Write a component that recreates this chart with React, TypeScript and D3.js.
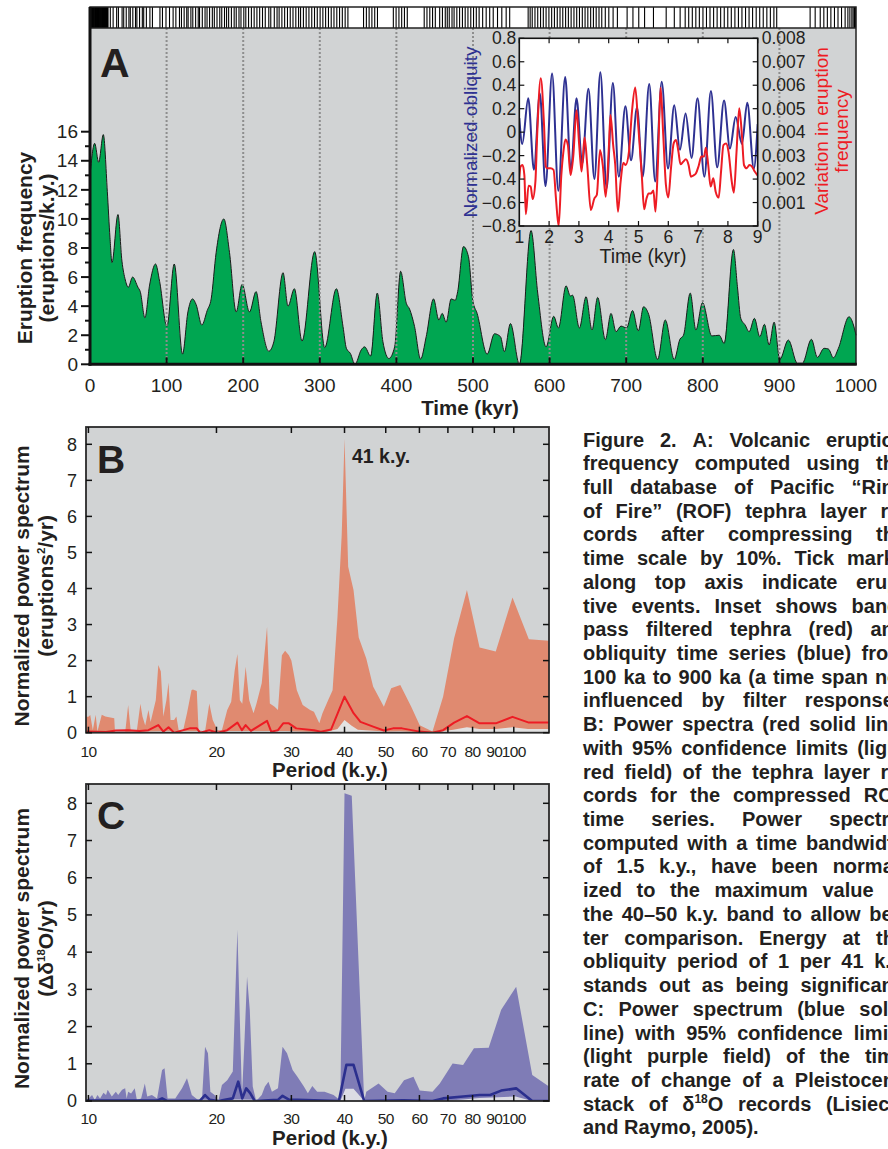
import React, { useEffect, useRef } from 'react';
import * as d3 from 'd3';

const FONT = "'Liberation Sans', Arial, Helvetica, sans-serif";
const GRAY = '#d1d3d4';
const GREEN = '#00a651';
const TEXT = '#231f20';

// ---------------- Panel A: eruption frequency (kyr, eruptions/k.y.)
const eruptionFrequency: [number, number][] = [
  [0, 13.0], [6.1, 15.2], [11.3, 13.9], [17.4, 15.8], [22.6, 11.9], [26.1, 8.7], [28.7, 7.0], [36.5, 10.3],
  [41.7, 7.1], [46.1, 5.8], [50, 5.3], [55.6, 6.0], [62.6, 5.3], [65.6, 5.0], [71.7, 3.2], [77.8, 5.45],
  [85.6, 6.9], [90.9, 5.7], [100.4, 2.6], [110, 6.9], [120.8, 0.7], [127.8, 3.6], [133.9, 4.5], [138.6, 4.1],
  [146, 2.7], [153, 3.7], [158.2, 4.5], [164.7, 7.7], [174.7, 10.0], [182.1, 7.7], [190.8, 3.6], [198.6, 5.5],
  [208.2, 3.6], [216.8, 5.0], [223.3, 2.9], [233.4, 0.9], [240, 1.55], [252, 6.3], [258.5, 4.0], [266.8, 5.2],
  [276.8, 1.6], [293.3, 7.75], [306.4, 1.15], [321.6, 5.2], [330.3, 2.6], [334.7, 1.1], [339.9, 0.75], [345.9, 0],
  [354.2, 1.0], [358.5, 1.2], [366.4, 0.57], [375, 4.9], [382.4, 1.55], [390.2, 0.4], [397.7, 1.2], [405.5, 6.4],
  [412.9, 4.2], [417.2, 3.8], [423.7, 2.6], [431.6, 0.36], [438.9, 1.9], [448.5, 4.5], [455.4, 3.05], [459.8, 3.5],
  [465, 2.9], [471.5, 4.5], [476.7, 4.4], [480, 5.0], [487.6, 8.1], [494.1, 7.4], [499.7, 4.4], [505.4, 3.5],
  [518.5, 0.7], [528, 2.1], [535.9, 1.9], [541, 0.87], [548.9, 2.8], [560.6, 0], [575.8, 9.2], [584.5, 4.9],
  [595.4, 1.2], [605.4, 3.3], [611.5, 2.5], [621.5, 5.4], [627.1, 4.7], [630, 4.75], [638.9, 2.5], [647.6, 4.65],
  [655.4, 2.36], [662.7, 4.6], [672.8, 1.7], [680.2, 3.5], [686.7, 2.24], [693.2, 2.63], [700.5, 2.5], [708.3, 3.7],
  [715.8, 2.3], [722.7, 3.96], [729.3, 3.44], [741, 0.34], [751, 3.05], [762.7, 0.34], [770.1, 1.72], [774.8, 2.0],
  [783.6, 4.9], [791, 2.36], [799.6, 4.24], [811.8, 1.95], [821.4, 2.0], [827.9, 1.44], [840, 7.9], [845.2, 5.34],
  [849.6, 3.16], [855.3, 2.7], [860.5, 2.24], [867.4, 3.16], [874.4, 1.9], [880.5, 2.75], [886.6, 1.33], [893.1, 2.9],
  [900.5, 0.34], [911.7, 1.67], [923.5, 0.07], [930, 0.07], [941.8, 1.72], [949.6, 0.48], [958.3, 1.1], [964, 1.05],
  [970.5, 0.45], [977, 1.1], [990.9, 3.27], [996.1, 2.8], [1000, 2.0],
];

// eruptive events (kyr) shown as tick marks on top strip
const eruptionEvents: number[] = [
  0.4, 1.1, 1.6, 2.4, 3.0, 3.5, 4.3, 4.9, 5.4, 6.2, 6.8, 7.3, 8.1, 8.6, 9.4, 9.9, 10.7, 11.2, 11.9, 12.6, 13.1,
  13.9, 14.4, 15.2, 15.8, 16.3, 17.1, 17.7, 18.2, 19.0, 19.6, 20.3, 20.8, 21.6, 22.2, 22.9, 23.5,
  26.5, 30.2, 34.8, 37.1, 41.9, 44.0, 47.3, 50.8, 52.6, 55.9, 59.4, 61.2, 64.7, 68.3, 70.1, 73.6, 78.2, 81.5,
  91.3, 94.6, 99.2, 103.8, 108.5, 112.1,
  116.8, 119.4, 122.9, 126.3, 128.1, 131.7, 134.2, 137.9, 141.3, 143.0, 146.6, 150.2, 152.8, 156.1, 159.7, 162.3,
  165.8, 169.4, 172.0, 175.6, 178.3, 181.0, 184.6, 188.2, 190.9, 194.5, 197.1, 200.8, 203.4, 207.0, 210.7, 214.3,
  217.9, 221.5, 225.2, 228.8, 233.4, 236.0, 240.6, 244.2, 246.9, 250.5, 254.1, 257.8, 261.4, 265.0, 268.7, 272.3,
  274.9, 278.6, 282.2, 285.8, 289.5, 293.1, 296.7, 300.4, 304.0, 307.6, 311.3, 314.9, 318.5, 322.2, 325.8, 329.4,
  333.1, 336.7, 357.1, 360.8, 364.4, 368.0, 371.7, 375.3, 396.0, 399.6, 403.3, 406.9, 410.5, 414.2,
  436.3, 439.9, 443.6, 447.2, 450.8, 456.5, 460.1, 463.8, 466.4, 469.0, 472.6, 475.3, 478.9, 482.5, 486.2, 489.8,
  493.4, 497.1, 500.7, 504.3, 508.0, 512.6, 517.2, 521.8, 526.4, 532.0, 537.6, 543.3, 547.9,
  572.0, 574.6, 577.3, 580.9, 584.5, 588.2, 591.8, 595.4, 599.1, 602.7, 606.3, 610.0, 613.6, 617.2, 620.9, 624.5,
  628.1, 631.8, 635.4, 639.0, 642.7, 646.3, 649.9, 653.6, 657.2, 660.8, 664.5, 668.1, 672.7, 677.3, 682.9, 688.5,
  701.2, 708.8, 716.4, 724.0, 735.6, 752.2, 762.8,
  770.4, 777.0, 781.6, 786.3, 790.9, 795.5, 800.2, 804.8, 809.4, 814.1, 818.7, 823.3, 828.0, 832.6, 837.2, 841.9,
  846.5, 851.1, 855.8, 860.4, 865.0, 869.7, 874.3, 878.9, 883.6, 888.2, 892.8, 896.5,
  940.1, 946.7, 953.3, 958.0, 962.6, 967.2, 971.9, 976.5, 981.1, 985.8, 989.4, 992.0, 994.6, 996.3, 998.0, 999.4,
];

const timeTicks = [0, 100, 200, 300, 400, 500, 600, 700, 800, 900, 1000];
const freqTicks = [0, 2, 4, 6, 8, 10, 12, 14, 16];
const freqMinorTicks = [1, 3, 5, 7, 9, 11, 13, 15];

// ---------------- Inset
const obliquity: [number, number][] = [
  [1.0, 0.12], [1.1, -0.1], [1.3, 0.29], [1.49, -0.32], [1.69, 0.33], [1.88, -0.46], [2.1, 0.5], [2.31, -0.5],
  [2.54, 0.47], [2.73, -0.33], [2.92, 0.29], [3.11, -0.27], [3.32, 0.37], [3.52, -0.4], [3.72, 0.51], [3.93, -0.48],
  [4.14, 0.42], [4.34, -0.38], [4.56, 0.22], [4.75, -0.24], [4.95, 0.21], [5.14, -0.38], [5.36, 0.41], [5.56, -0.42],
  [5.78, 0.43], [5.99, -0.31], [6.2, 0.23], [6.39, -0.15], [6.58, 0.16], [6.78, -0.22], [6.98, 0.29], [7.21, -0.38],
  [7.43, 0.35], [7.64, -0.3], [7.87, 0.27], [8.07, -0.14], [8.26, 0.13], [8.47, -0.1], [8.65, 0.25], [8.87, -0.31],
  [9.0, 0.07],
];
const tephraVariation: [number, number][] = [
  [1.0, 0.00203], [1.04, 0.00253], [1.11, 0.0026], [1.17, 0.00217], [1.22, 0.0005], [1.31, 0.00172], [1.38, 0.00168],
  [1.45, 0.00115], [1.54, 0.00189], [1.6, 0.00388], [1.72, 0.0063], [1.83, 0.00431], [1.89, 0.00253], [1.94, 0.00246],
  [2.05, 0.00246], [2.15, 0.00239], [2.23, 0.00118], [2.32, 0.0], [2.41, 0.00217], [2.48, 0.00317], [2.55, 0.00369],
  [2.63, 0.00345], [2.72, 0.00217], [2.81, 0.00296], [2.92, 0.00493], [3.01, 0.00345], [3.09, 0.00232], [3.19, 0.00377],
  [3.28, 0.0026], [3.4, 0.00068], [3.52, 0.00118], [3.6, 0.00132], [3.71, 0.00324], [3.8, 0.0026], [3.9, 0.00125],
  [4.0, 0.0032], [4.06, 0.00473], [4.15, 0.00345], [4.22, 0.0026], [4.31, 0.00061], [4.4, 0.00189], [4.49, 0.0027],
  [4.57, 0.0026], [4.68, 0.00317], [4.78, 0.00487], [4.89, 0.0059], [4.99, 0.00431], [5.11, 0.00217], [5.19, 0.00071],
  [5.27, 0.00118], [5.34, 0.00139], [5.42, 0.00139], [5.5, 0.00151], [5.57, 0.00061], [5.65, 0.0026], [5.74, 0.0059],
  [5.83, 0.00388], [5.92, 0.00175], [6.0, 0.00122], [6.09, 0.00246], [6.18, 0.00352], [6.26, 0.00367], [6.34, 0.00317],
  [6.41, 0.00263], [6.5, 0.00274], [6.59, 0.00284], [6.68, 0.0026], [6.76, 0.0021], [6.84, 0.00215], [6.93, 0.00225],
  [7.02, 0.00257], [7.11, 0.00296], [7.2, 0.00296], [7.26, 0.00334], [7.34, 0.0026], [7.42, 0.00168], [7.51, 0.00203],
  [7.59, 0.00146], [7.69, 0.00121], [7.77, 0.00232], [7.85, 0.00345], [7.94, 0.00352], [8.02, 0.00317], [8.13, 0.00189],
  [8.2, 0.00142], [8.29, 0.00317], [8.38, 0.00502], [8.47, 0.00388], [8.54, 0.0026], [8.63, 0.00246], [8.72, 0.0026],
  [8.81, 0.00253], [8.9, 0.00232], [9.0, 0.00215],
];
const insetTimeTicks = [1, 2, 3, 4, 5, 6, 7, 8, 9];
const obliquityTicks = [-0.8, -0.6, -0.4, -0.2, 0, 0.2, 0.4, 0.6, 0.8];
const tephraTicks = [0, 0.001, 0.002, 0.003, 0.004, 0.005, 0.006, 0.007, 0.008];

// ---------------- Panel B: tephra power spectrum (period k.y., normalized power)
const tephraUpper: [number, number][] = [
  [9.87, 0.44], [10, 0.44], [10.1, 0.49], [10.24, 0.07], [10.4, 0.5], [10.5, 0.03], [10.75, 0.5], [10.96, 0.45],
  [11.5, 0.4], [11.55, 0], [12.2, 0], [12.4, 0.77], [12.57, 0.07], [13.0, 0.07], [13.25, 0.8], [13.4, 0.45],
  [13.6, 0.2], [13.84, 0.63], [14.0, 0.3], [14.4, 0.9], [14.6, 1.88], [14.8, 1.7], [15.0, 0.45], [15.25, 0.9],
  [15.43, 1.39], [15.6, 0.35], [15.9, 0.35], [16.1, 0.45], [16.3, 0.07], [16.7, 0.07], [17.05, 0.54], [17.47, 1.18],
  [17.6, 1.2], [17.98, 1.16], [18.15, 0.07], [18.8, 0.03], [19.24, 0.81], [19.6, 0.35], [20.1, 0.07], [20.6, 0.07],
  [21.2, 0.63], [21.66, 0.86], [22.08, 1.74], [22.4, 2.18], [22.7, 0.9], [23.0, 0.8], [23.42, 1.83], [23.88, 0.9],
  [24.44, 0.54], [24.83, 0.8], [25.55, 1.37], [26.3, 2.94], [26.7, 0.81], [27.4, 0.72], [27.9, 0.63], [28.5, 2.15],
  [29.0, 2.27], [29.6, 2.15], [30.0, 2.0], [30.9, 1.18], [31.9, 0.77], [33.2, 0.63], [33.9, 0.58], [34.9, 0.26],
  [35.5, 0.54], [36.6, 0.9], [37.5, 1.18], [38.5, 3.2], [39.4, 5.5], [40.0, 8.16], [40.8, 4.6], [42.0, 3.96],
  [43.2, 2.64], [45.0, 2.06], [46.7, 1.28], [49.5, 0.72], [51.5, 1.23], [54.1, 1.32], [57.4, 0.72], [60.1, 0.21],
  [64.4, 0.03], [68.2, 1.0], [72.4, 2.62], [77.6, 3.96], [83.1, 2.36], [90.7, 2.25], [99.3, 3.75], [108.5, 2.59],
  [121, 2.55],
];
const tephraLower: [number, number][] = [
  [9.87, 0.01], [14.6, 0.04], [22.4, 0.05], [26.3, 0.05], [29, 0.05], [36, 0.01], [38.5, 0.1], [40, 0.35],
  [41.5, 0.2], [43, 0.08], [50, 0.03], [54, 0.04], [64, 0], [72, 0.08], [77.6, 0.15], [83, 0.1], [90.7, 0.1],
  [99.3, 0.15], [108, 0.1], [121, 0.1],
];
const tephraPower: [number, number][] = [
  [9.87, 0.03], [11, 0.02], [11.6, 0.06], [12.4, 0.07], [13.2, 0.05], [13.84, 0.07], [14.6, 0.21], [15.0, 0.03],
  [15.43, 0.15], [15.9, 0.0], [17.3, 0.12], [17.98, 0.12], [18.3, 0], [19.24, 0.07], [20.1, 0.0], [21.2, 0.07],
  [22.4, 0.28], [22.96, 0.07], [23.42, 0.21], [24.1, 0.05], [26.3, 0.33], [26.9, 0.03], [27.9, 0.07], [28.7, 0.26],
  [29.6, 0.26], [30.8, 0.12], [33.9, 0.07], [35.2, 0.03], [37.2, 0.09], [40.0, 1.0], [42.0, 0.54], [43.6, 0.3],
  [46.7, 0.17], [49.5, 0.06], [52.0, 0.12], [54.6, 0.12], [60.1, 0.03], [64.4, 0.0], [68.2, 0.07], [72.4, 0.28],
  [77.6, 0.46], [83.1, 0.26], [90.7, 0.26], [99.3, 0.44], [108.5, 0.28], [121, 0.28],
];

// ---------------- Panel C: d18O rate-of-change power spectrum
const isotopeUpper: [number, number][] = [
  [9.87, 0], [10.2, 0.16], [10.35, 0.03], [10.5, 0.16], [10.65, 0.07], [10.85, 0.22], [11.0, 0.16], [11.1, 0.3],
  [11.35, 0.12], [11.6, 0.25], [11.75, 0.16], [12.0, 0.3], [12.2, 0.34], [12.3, 0.07], [12.4, 0.25], [12.6, 0.2],
  [12.85, 0.34], [13.0, 0.03], [13.3, 0.07], [13.57, 0.47], [13.75, 0.12], [14.1, 0.16], [14.5, 0.07], [14.9, 0.83],
  [15.1, 0.88], [15.35, 0.07], [16.0, 0.07], [16.6, 0.34], [17.05, 0.61], [17.5, 0.16], [18.1, 0.03], [18.5, 0.07],
  [18.8, 1.46], [19.1, 1.28], [19.35, 0.25], [19.8, 0.16], [20.2, 0], [20.6, 0.43], [21.2, 0.56], [21.85, 0.79],
  [22.4, 4.6], [22.96, 0.12], [23.3, 1.73], [23.6, 3.34], [23.95, 2.45], [24.34, 0.39], [24.8, 0], [25.55, 0.16],
  [26.0, 0.39], [26.5, 0.52], [27.0, 0.25], [27.9, 0.34], [28.6, 1.46], [29.3, 1.28], [30.2, 0.83], [31.0, 0.65],
  [32.1, 0.39], [32.8, 0.21], [33.6, 0.4], [34.5, 0.25], [35.9, 0.25], [37.7, 0.16], [38.6, 0.07], [39.1, 0],
  [40.0, 8.27], [41.6, 8.2], [44.5, 0], [45.0, 0.25], [48.1, 0.47], [50.5, 0.25], [52.5, 0.21], [55.2, 0.56],
  [58.1, 0.65], [60.1, 0.28], [64.4, 0.25], [67.0, 0.47], [71.8, 1.01], [76.0, 0.97], [80.6, 1.42], [87.3, 1.43],
  [93.4, 2.45], [101.3, 3.07], [110.5, 0.7], [121, 0.39],
];
const isotopeLower: [number, number][] = [
  [9.87, 0], [22.4, 0.04], [39.1, 0], [40.2, 0.33], [42, 0.33], [44.5, 0], [68, 0], [76, 0.04], [83, 0.08],
  [101, 0.12], [110.5, 0], [121, 0],
];
const isotopePower: [number, number][] = [
  [9.87, 0.01], [14.5, 0.01], [14.9, 0.07], [15.3, 0.0], [18.3, 0.01], [18.8, 0.16], [19.3, 0.03], [20.2, 0],
  [21.85, 0.07], [22.5, 0.52], [23.0, 0.07], [23.5, 0.34], [24.0, 0.21], [24.6, 0], [27.9, 0.03], [28.6, 0.14],
  [29.6, 0.04], [38.8, 0], [40.4, 0.97], [42.0, 0.97], [44.5, 0], [55, 0.02], [64.4, 0], [68.2, 0.07], [76.0, 0.12],
  [83.1, 0.16], [88.0, 0.16], [93.4, 0.28], [101.3, 0.34], [110.5, 0], [121, 0],
];

const periodTicks = [10, 20, 30, 40, 50, 60, 70, 80, 90, 100];
const powerTicks = [0, 1, 2, 3, 4, 5, 6, 7, 8];

const captionLines = [
  'Figure 2. A: Volcanic eruption',
  'frequency computed using the',
  'full database of Pacific “Ring',
  'of Fire” (ROF) tephra layer re-',
  'cords after compressing the',
  'time scale by 10%. Tick marks',
  'along top axis indicate erup-',
  'tive events. Inset shows band-',
  'pass filtered tephra (red) and',
  'obliquity time series (blue) from',
  '100 ka to 900 ka (a time span not',
  'influenced by filter response).',
  'B: Power spectra (red solid line)',
  'with 95% confidence limits (light',
  'red field) of the tephra layer re-',
  'cords for the compressed ROF',
  'time series. Power spectra,',
  'computed with a time bandwidth',
  'of 1.5 k.y., have been normal-',
  'ized to the maximum value in',
  'the 40–50 k.y. band to allow bet-',
  'ter comparison. Energy at the',
  'obliquity period of 1 per 41 k.y.',
  'stands out as being significant.',
  'C: Power spectrum (blue solid',
  'line) with 95% confidence limits',
  '(light purple field) of the time',
  'rate of change of a Pleistocene',
  'stack of δ{18}O records (Lisiecki',
  'and Raymo, 2005).',
];

type Sel = d3.Selection<any, any, any, any>;

function vLabel(g: Sel, x: number, y: number, parts: { t: string; sup?: boolean }[], size: number, weight: string, color: string) {
  const t = g.append('text')
    .attr('transform', `translate(${x},${y}) rotate(-90)`)
    .attr('text-anchor', 'middle')
    .attr('font-size', size)
    .attr('font-weight', weight)
    .attr('fill', color);
  let first = true;
  let raised = false;
  parts.forEach((p) => {
    const ts = t.append('tspan').text(p.t);
    let dy = 0;
    if (first) dy += size * 0.35;
    if (p.sup && !raised) { dy -= size * 0.4; raised = true; ts.attr('font-size', size * 0.55); }
    else if (!p.sup && raised) { dy += size * 0.4; raised = false; }
    if (dy !== 0) ts.attr('dy', dy);
    first = false;
  });
  return t;
}

function draw(node: SVGSVGElement) {
  const svg = d3.select(node);
  svg.selectAll('*').remove();
  svg.attr('font-family', FONT);
  const defs = svg.append('defs');

  // =============== PANEL A ===============
  const aL = 90, aR = 856, stripTop = 7, aTop = 28, aBottom = 364.3;
  const x = d3.scaleLinear().domain([0, 1000]).range([aL, aR]);
  const y = d3.scaleLinear().domain([0, 16]).range([aBottom, 131.7]);
  const gA = svg.append('g');
  gA.append('rect').attr('x', aL).attr('y', stripTop).attr('width', aR - aL).attr('height', aTop - stripTop).attr('fill', '#fff');
  gA.append('rect').attr('x', aL).attr('y', aTop).attr('width', aR - aL).attr('height', aBottom - aTop).attr('fill', GRAY);

  const areaA = d3.area<[number, number]>().x((d) => x(d[0])).y0(y(0)).y1((d) => y(Math.max(0, d[1]))).curve(d3.curveMonotoneX);
  const lineA = d3.line<[number, number]>().x((d) => x(d[0])).y((d) => y(Math.max(0, d[1]))).curve(d3.curveMonotoneX);
  gA.append('path').datum(eruptionFrequency).attr('d', areaA as any).attr('fill', GREEN);
  gA.append('path').datum(eruptionFrequency).attr('d', lineA as any).attr('fill', 'none').attr('stroke', '#1b1b1b').attr('stroke-width', 1);

  const inner = timeTicks.filter((t) => t > 0 && t < 1000);
  gA.selectAll('line.grid').data(inner).join('line')
    .attr('x1', (d) => x(d)).attr('x2', (d) => x(d)).attr('y1', aTop).attr('y2', aBottom)
    .attr('stroke', '#8e8e8e').attr('stroke-width', 2).attr('stroke-dasharray', '2,2');
  gA.selectAll('line.btick').data(inner).join('line')
    .attr('x1', (d) => x(d)).attr('x2', (d) => x(d)).attr('y1', aBottom).attr('y2', aBottom - 7)
    .attr('stroke', '#111').attr('stroke-width', 2);

  gA.selectAll('line.ev').data(eruptionEvents).join('line')
    .attr('x1', (d) => x(d)).attr('x2', (d) => x(d)).attr('y1', stripTop).attr('y2', aTop)
    .attr('stroke', '#000').attr('stroke-width', 1.1);

  gA.append('rect').attr('x', aL).attr('y', stripTop).attr('width', aR - aL).attr('height', aBottom - stripTop)
    .attr('fill', 'none').attr('stroke', '#222').attr('stroke-width', 1.5);
  gA.append('line').attr('x1', aL).attr('x2', aR).attr('y1', aTop).attr('y2', aTop).attr('stroke', '#222').attr('stroke-width', 1.3);
  gA.append('line').attr('x1', aL).attr('x2', aL).attr('y1', stripTop).attr('y2', aBottom + 1.5).attr('stroke', '#111').attr('stroke-width', 3);
  gA.append('line').attr('x1', aL - 1.5).attr('x2', aR + 0.75).attr('y1', aBottom).attr('y2', aBottom).attr('stroke', '#111').attr('stroke-width', 3);

  gA.selectAll('line.ytm').data(freqTicks).join('line')
    .attr('x1', aL - 9).attr('x2', aL).attr('y1', (d) => y(d)).attr('y2', (d) => y(d)).attr('stroke', '#111').attr('stroke-width', 2);
  gA.selectAll('line.ytn').data(freqMinorTicks).join('line')
    .attr('x1', aL - 5).attr('x2', aL).attr('y1', (d) => y(d)).attr('y2', (d) => y(d)).attr('stroke', '#111').attr('stroke-width', 2);
  gA.selectAll('text.ytl').data(freqTicks).join('text')
    .attr('x', 78).attr('y', (d) => y(d)).attr('dy', '0.35em').attr('text-anchor', 'end')
    .attr('font-size', 19).attr('fill', TEXT).text((d) => String(d));
  gA.selectAll('text.xtl').data(timeTicks).join('text')
    .attr('x', (d) => x(d)).attr('y', 392).attr('text-anchor', 'middle')
    .attr('font-size', 19).attr('fill', TEXT).text((d) => String(d));
  gA.append('text').attr('x', 470).attr('y', 415).attr('text-anchor', 'middle').attr('font-size', 20.5)
    .attr('font-weight', 'bold').attr('fill', TEXT).text('Time (kyr)');
  vLabel(gA, 25, 248, [{ t: 'Eruption frequency' }], 21, 'bold', TEXT);
  vLabel(gA, 47, 248, [{ t: '(eruptions/k.y.)' }], 21, 'bold', TEXT);
  gA.append('text').attr('x', 100).attr('y', 77).attr('font-size', 41).attr('font-weight', 'bold').attr('fill', TEXT).text('A');

  // ---------- inset
  const iL = 519.3, iR = 757.7, iT = 38.3, iB = 226;
  const ix = d3.scaleLinear().domain([1, 9]).range([iL, iR]);
  const iyL = d3.scaleLinear().domain([-0.8, 0.8]).range([iB, iT]);
  const iyR = d3.scaleLinear().domain([0, 0.008]).range([iB, iT]);
  const gI = svg.append('g');
  gI.append('rect').attr('x', iL).attr('y', iT).attr('width', iR - iL).attr('height', iB - iT).attr('fill', '#fff');
  defs.append('clipPath').attr('id', 'clipInset').append('rect').attr('x', iL).attr('y', iT).attr('width', iR - iL).attr('height', iB - iT);
  const gIc = gI.append('g').attr('clip-path', 'url(#clipInset)');
  gIc.append('path').datum(obliquity)
    .attr('d', d3.line<[number, number]>().x((d) => ix(d[0])).y((d) => iyL(d[1])).curve(d3.curveMonotoneX) as any)
    .attr('fill', 'none').attr('stroke', '#2e3192').attr('stroke-width', 2);
  gIc.append('path').datum(tephraVariation)
    .attr('d', d3.line<[number, number]>().x((d) => ix(d[0])).y((d) => iyR(d[1])).curve(d3.curveMonotoneX) as any)
    .attr('fill', 'none').attr('stroke', '#ed1c24').attr('stroke-width', 2);
  gI.append('rect').attr('x', iL).attr('y', iT).attr('width', iR - iL).attr('height', iB - iT)
    .attr('fill', 'none').attr('stroke', '#111').attr('stroke-width', 1.6);
  const tk = 5;
  gI.selectAll('line.itl').data(obliquityTicks).join('line')
    .attr('x1', iL).attr('x2', iL + tk).attr('y1', (d) => iyL(d)).attr('y2', (d) => iyL(d)).attr('stroke', '#111').attr('stroke-width', 1.2);
  gI.selectAll('line.itr').data(tephraTicks).join('line')
    .attr('x1', iR - tk).attr('x2', iR).attr('y1', (d) => iyR(d)).attr('y2', (d) => iyR(d)).attr('stroke', '#111').attr('stroke-width', 1.2);
  gI.selectAll('line.itt').data(insetTimeTicks).join('line')
    .attr('x1', (d) => ix(d)).attr('x2', (d) => ix(d)).attr('y1', iT).attr('y2', iT + tk).attr('stroke', '#111').attr('stroke-width', 1.2);
  gI.selectAll('line.itb').data(insetTimeTicks).join('line')
    .attr('x1', (d) => ix(d)).attr('x2', (d) => ix(d)).attr('y1', iB).attr('y2', iB - tk).attr('stroke', '#111').attr('stroke-width', 1.2);
  const fL = d3.format('.1f');
  gI.selectAll('text.ill').data(obliquityTicks).join('text')
    .attr('x', iL - 3).attr('y', (d) => iyL(d)).attr('dy', '0.35em').attr('text-anchor', 'end')
    .attr('font-size', 17.5).attr('fill', TEXT).text((d) => (d === 0 ? '0' : fL(d)));
  const fR = d3.format('.3f');
  gI.selectAll('text.ilr').data(tephraTicks).join('text')
    .attr('x', iR + 4).attr('y', (d) => iyR(d)).attr('dy', '0.35em').attr('text-anchor', 'start')
    .attr('font-size', 17.5).attr('fill', TEXT).text((d) => (d === 0 ? '0' : fR(d)));
  gI.selectAll('text.ilb').data(insetTimeTicks).join('text')
    .attr('x', (d) => ix(d)).attr('y', 243).attr('text-anchor', 'middle')
    .attr('font-size', 17.5).attr('fill', TEXT).text((d) => String(d));
  gI.append('text').attr('x', 643).attr('y', 263).attr('text-anchor', 'middle').attr('font-size', 19.5).attr('fill', TEXT).text('Time (kyr)');
  vLabel(gI, 470, 132, [{ t: 'Normalized obliquity' }], 19, 'normal', '#2e3192');
  vLabel(gI, 821, 131, [{ t: 'Variation in eruption' }], 19, 'normal', '#ed1c24');
  vLabel(gI, 841, 131, [{ t: 'frequency' }], 19, 'normal', '#ed1c24');

  // =============== PANELS B & C ===============
  const pL = 86, pR = 549;
  const px = d3.scaleLog().domain([9.87, 121]).range([pL, pR]);

  function spectrum(o: {
    id: string; top: number; zero: number; eight: number; upper: [number, number][]; lower: [number, number][];
    power: [number, number][]; fill: string; lowFill: string; lineColor: string; lineWidth: number; letter: string;
    letterY: number; tickY: number; titleY: number; ylab2: { t: string; sup?: boolean }[];
  }) {
    const py = d3.scaleLinear().domain([0, 8]).range([o.zero, o.eight]);
    const g = svg.append('g');
    g.append('rect').attr('x', pL).attr('y', o.top).attr('width', pR - pL).attr('height', o.zero - o.top).attr('fill', GRAY);
    defs.append('clipPath').attr('id', o.id).append('rect').attr('x', pL).attr('y', o.top).attr('width', pR - pL).attr('height', o.zero - o.top);
    const gc = g.append('g').attr('clip-path', `url(#${o.id})`);
    const ar = d3.area<[number, number]>().x((d) => px(d[0])).y0(py(0)).y1((d) => py(d[1]));
    gc.append('path').datum(o.upper).attr('d', ar as any).attr('fill', o.fill);
    gc.append('path').datum(o.lower).attr('d', ar as any).attr('fill', o.lowFill);
    gc.append('path').datum(o.power)
      .attr('d', d3.line<[number, number]>().x((d) => px(d[0])).y((d) => py(d[1])) as any)
      .attr('fill', 'none').attr('stroke', o.lineColor).attr('stroke-width', o.lineWidth).attr('stroke-linejoin', 'round');
    g.append('rect').attr('x', pL).attr('y', o.top).attr('width', pR - pL).attr('height', o.zero - o.top)
      .attr('fill', 'none').attr('stroke', '#2a2a2a').attr('stroke-width', 1.8);
    const t = 6;
    g.selectAll('line.l').data(powerTicks).join('line')
      .attr('x1', pL).attr('x2', pL + t).attr('y1', (d) => py(d)).attr('y2', (d) => py(d)).attr('stroke', '#111').attr('stroke-width', 1.5);
    g.selectAll('line.r').data(powerTicks).join('line')
      .attr('x1', pR - t).attr('x2', pR).attr('y1', (d) => py(d)).attr('y2', (d) => py(d)).attr('stroke', '#111').attr('stroke-width', 1.5);
    g.selectAll('line.b').data(periodTicks).join('line')
      .attr('x1', (d) => px(d)).attr('x2', (d) => px(d)).attr('y1', o.zero).attr('y2', o.zero - t).attr('stroke', '#111').attr('stroke-width', 1.5);
    g.selectAll('line.t').data(periodTicks).join('line')
      .attr('x1', (d) => px(d)).attr('x2', (d) => px(d)).attr('y1', o.top).attr('y2', o.top + t).attr('stroke', '#111').attr('stroke-width', 1.5);
    g.selectAll('text.yl').data(powerTicks).join('text')
      .attr('x', 77).attr('y', (d) => py(d)).attr('dy', '0.35em').attr('text-anchor', 'end')
      .attr('font-size', 18).attr('fill', TEXT).text((d) => String(d));
    g.selectAll('text.xl').data(periodTicks).join('text')
      .attr('x', (d) => px(d)).attr('y', o.tickY).attr('text-anchor', 'middle')
      .attr('font-size', 15.5).attr('letter-spacing', -0.6).attr('fill', TEXT).text((d) => String(d));
    g.append('text').attr('x', 330).attr('y', o.titleY).attr('text-anchor', 'middle').attr('font-size', 20.5)
      .attr('font-weight', 'bold').attr('fill', TEXT).text('Period (k.y.)');
    vLabel(g, 22, (o.top + o.zero) / 2 + 6, [{ t: 'Normalized power spectrum' }], 21, 'bold', TEXT);
    vLabel(g, 46, (o.top + o.zero) / 2 + 6, o.ylab2, 21, 'bold', TEXT);
    g.append('text').attr('x', 97).attr('y', o.letterY).attr('font-size', 39).attr('font-weight', 'bold').attr('fill', TEXT).text(o.letter);
    return { g, py };
  }

  const B = spectrum({
    id: 'clipB', top: 427, zero: 732.7, eight: 444.3, upper: tephraUpper, lower: tephraLower, power: tephraPower,
    fill: '#e08a70', lowFill: '#e2e2e2', lineColor: '#ed1c24', lineWidth: 2, letter: 'B', letterY: 473, tickY: 757, titleY: 777,
    ylab2: [{ t: '(eruptions' }, { t: '2', sup: true }, { t: '/yr)' }],
  });
  B.g.append('text').attr('x', 352).attr('y', 463).attr('font-size', 19.5).attr('font-weight', 'bold').attr('fill', TEXT).text('41 k.y.');

  spectrum({
    id: 'clipC', top: 784, zero: 1101, eight: 803.3, upper: isotopeUpper, lower: isotopeLower, power: isotopePower,
    fill: '#7f7cb6', lowFill: '#dcdce4', lineColor: '#2b2f8e', lineWidth: 2.6, letter: 'C', letterY: 829, tickY: 1124, titleY: 1145,
    ylab2: [{ t: '(Δδ' }, { t: '18', sup: true }, { t: 'O/yr)' }],
  });

  // =============== CAPTION ===============
  const capX = 583, capW = 323, fs = 20, lh = 23.72, y0 = 446.5;
  const gT = svg.append('g').attr('font-size', fs).attr('font-weight', 'bold').attr('fill', TEXT);
  captionLines.forEach((line, i) => {
    const yy = y0 + i * lh;
    const words = line.split(' ').filter((w) => w.length > 0);
    const nodes = words.map((w) => {
      const t = gT.append('text').attr('y', yy);
      const m = w.match(/^(.*)\{(.*)\}(.*)$/);
      if (m) {
        t.append('tspan').text(m[1]);
        t.append('tspan').text(m[2]).attr('font-size', fs * 0.6).attr('dy', -fs * 0.38);
        t.append('tspan').text(m[3]).attr('dy', fs * 0.38);
      } else {
        t.text(w);
      }
      return t;
    });
    const widths = nodes.map((n) => (n.node() as SVGTextElement).getComputedTextLength());
    const total = d3.sum(widths);
    const last = i === captionLines.length - 1;
    const gap = last || words.length < 2 ? fs * 0.278 : (capW - total) / (words.length - 1);
    let cx = capX;
    nodes.forEach((n, k) => {
      n.attr('x', cx);
      cx += widths[k] + gap;
    });
  });
}

export default function App() {
  const ref = useRef<SVGSVGElement>(null);
  useEffect(() => {
    if (ref.current) draw(ref.current);
  }, []);
  return (
    <svg
      ref={ref}
      width={888}
      height={1149}
      style={{ position: 'absolute', left: 0, top: 0, display: 'block', background: '#fff' }}
    />
  );
}
